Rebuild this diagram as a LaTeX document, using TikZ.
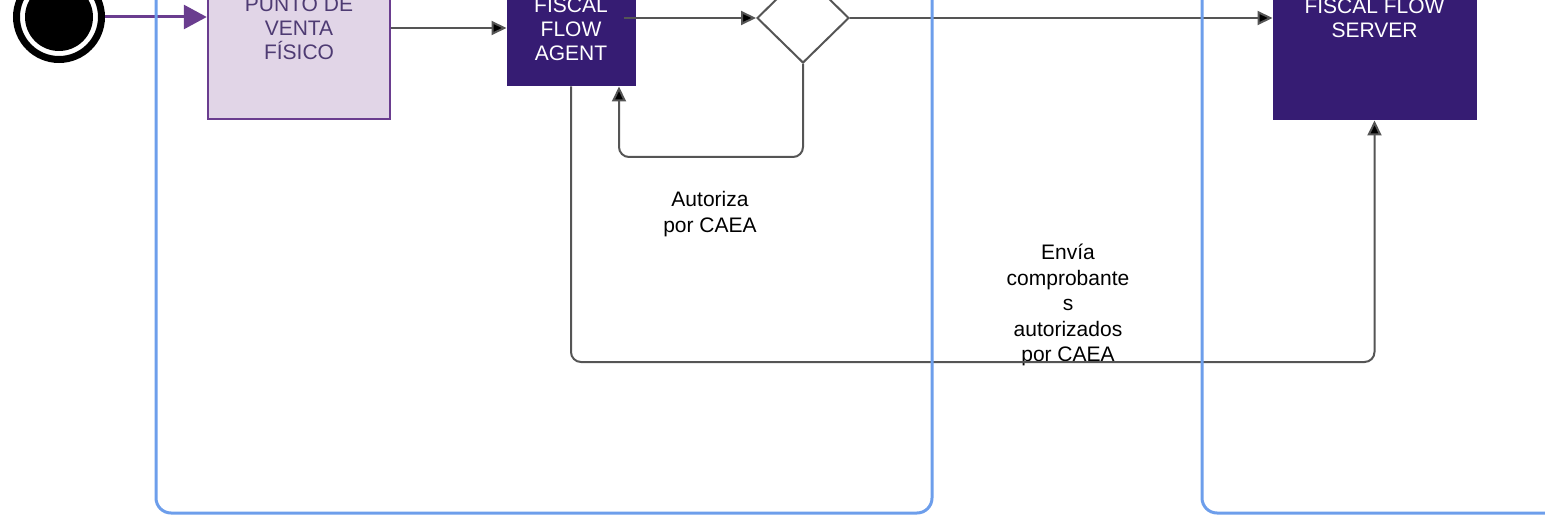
\documentclass[tikz,border=0pt]{standalone}
\usepackage{fontspec}
\setmainfont{Liberation Sans}
\usepackage{tikz}
\usetikzlibrary{arrows.meta}
\usetikzlibrary{shapes.geometric}
\usetikzlibrary{positioning}
\usetikzlibrary{calc}
\definecolor{lanecol}{HTML}{6D9EEB}
\definecolor{pdvfill}{HTML}{E1D5E7}
\definecolor{pdvline}{HTML}{6A3D8F}
\definecolor{pdvtext}{HTML}{4E3B73}
\definecolor{flowfill}{HTML}{361C73}
\definecolor{flowline}{HTML}{555555}
\tikzset{
    boxtext/.style={font=\fontsize{21}{24}\selectfont, align=center, inner sep=0pt},
    pdvbox/.style={boxtext, draw=pdvline, fill=pdvfill, text=pdvtext, line width=2.5pt,
        minimum width=182pt, minimum height=182pt},
    flowbox/.style={boxtext, fill=flowfill, text=white, draw=flowfill, line width=1pt},
    gateway/.style={diamond, draw=flowline, fill=white, line width=2pt, inner sep=0pt,
        minimum width=92pt, minimum height=90pt},
    startring/.style={circle, draw=black, fill=white, line width=7pt, minimum size=85pt, inner sep=0pt},
    startdot/.style={circle, fill=black, minimum size=68pt, inner sep=0pt},
    flow/.style={draw=flowline, line width=2pt, rounded corners=10pt,
        -{Triangle[length=15pt, width=14pt, fill=black]}},
    flowpurple/.style={draw=pdvline, line width=3pt,
        -{Triangle[length=23pt, width=24pt]}},
    lane/.style={draw=lanecol, line width=3pt, rounded corners=15pt},
    caption/.style={font=\fontsize{21}{25.5}\selectfont, align=center, inner sep=0pt},
}
\begin{document}
\begin{tikzpicture}[x=1pt, y=-1pt]
	\useasboundingbox (0,0) rectangle (1545,516);
	\clip (0,0) rectangle (1545,516);
	\node[startring] (start) at (59,17) {};
	\node[startdot] (startin) at (start) {};
	\node[pdvbox] (pdv) at (299,28) {PUNTO DE\\VENTA\\FÍSICO};
	\node[flowbox, minimum width=128pt, minimum height=114pt] (agent) at (571,29) {FISCAL\\FLOW\\AGENT};
	\node[gateway] (gate) at (803,18) {};
	\node[flowbox, minimum width=203pt, minimum height=204pt] (server) at (1374.5,18)
		{FISCAL FLOW\\SERVER};
	\node[caption] (lblcaea) at (710,214) {Autoriza\\por CAEA};
	\node[caption] (lblenvia) at (1068,305) {Envía\\comprobante\\s\\autorizados\\por CAEA};
	% connectors
	\draw[flowpurple] (start.east) -- (start.east -| pdv.west);
	\draw[flow] (pdv.east) -- (pdv.east -| agent.west);
	\draw[flow] ([xshift=-12pt]agent.east |- gate.west) -- (gate.west);
	\draw[flow] (gate.east) -- (gate.east -| server.west);
	\draw[flow] (gate.south) -- (gate.south |- 0,157) -| ([xshift=48pt]agent.south);
	\draw[flow] (agent.south) -- (agent.south |- 0,362) -| (server.south);
	% lanes
	\draw[lane] (156,-60) |- (932,513) -- (932,-60);
	\draw[lane] (1202,-60) |- (1620,513);
\end{tikzpicture}
\end{document}
